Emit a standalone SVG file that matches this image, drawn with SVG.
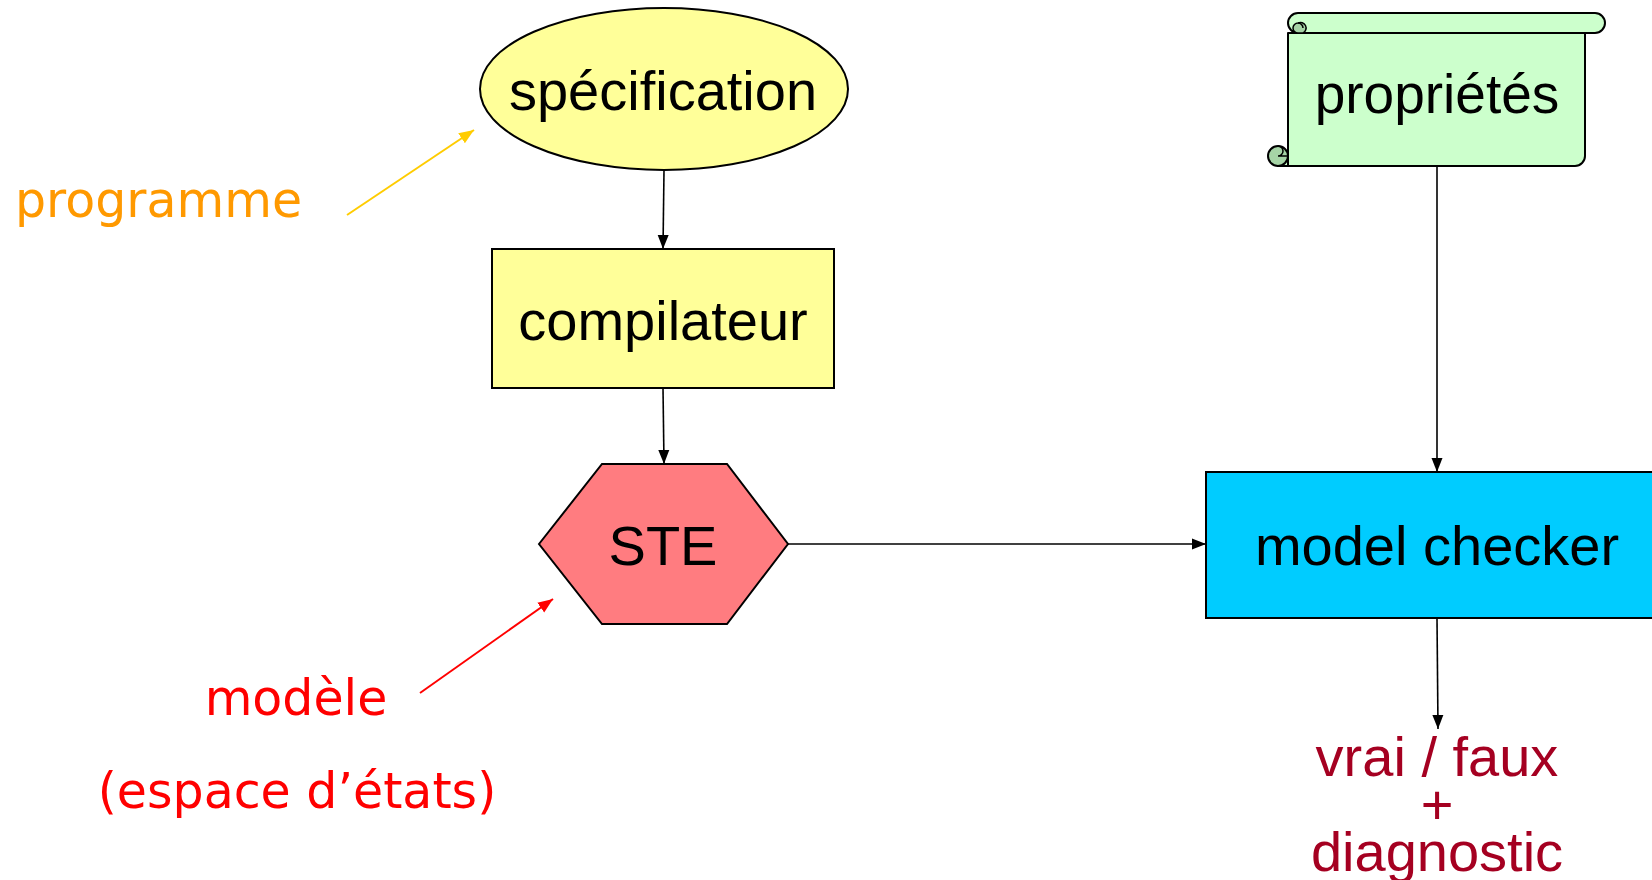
<svg xmlns="http://www.w3.org/2000/svg" width="1652" height="880" viewBox="0 0 1652 880">
  <style>
    .node { stroke: #000; stroke-width: 2; }
    .lbl { font-family: "Liberation Sans", Arial, sans-serif; font-size: 56px; fill: #000; text-anchor: middle; }
    .note { font-family: "DejaVu Sans", Verdana, sans-serif; font-size: 49px; }
    .result { font-family: "Liberation Sans", Arial, sans-serif; font-size: 56px; fill: #A50021; text-anchor: middle; }
    .edge { stroke: #000; stroke-width: 1.6; fill: none; }
  </style>
  <defs>
    <marker id="arrow" markerUnits="userSpaceOnUse" viewBox="0 0 14 14" refX="14" refY="7" markerWidth="14" markerHeight="14" orient="auto">
      <path d="M0,1.5 L14,7 L0,12.5 Z" fill="#000"/>
    </marker>
    <marker id="arrowYellow" markerUnits="userSpaceOnUse" viewBox="0 0 15 15" refX="15" refY="7.5" markerWidth="15" markerHeight="15" orient="auto">
      <path d="M0,1.5 L15,7.5 L0,13.5 Z" fill="#FFCC00"/>
    </marker>
    <marker id="arrowRed" markerUnits="userSpaceOnUse" viewBox="0 0 15 15" refX="15" refY="7.5" markerWidth="15" markerHeight="15" orient="auto">
      <path d="M0,1.5 L15,7.5 L0,13.5 Z" fill="#FF0000"/>
    </marker>
  </defs>

  <rect width="1652" height="880" fill="#fff"/>

  <!-- connectors -->
  <g id="connectors">
    <line class="edge" x1="664" y1="170" x2="663" y2="249" marker-end="url(#arrow)"/>
    <line class="edge" x1="663" y1="388" x2="664" y2="464" marker-end="url(#arrow)"/>
    <line class="edge" x1="788" y1="544" x2="1206" y2="544" marker-end="url(#arrow)"/>
    <line class="edge" x1="1437" y1="166" x2="1437" y2="472" marker-end="url(#arrow)"/>
    <line class="edge" x1="1437" y1="618" x2="1438" y2="729" marker-end="url(#arrow)"/>
    <line x1="347" y1="215" x2="474" y2="130" stroke="#FFCC00" stroke-width="2" marker-end="url(#arrowYellow)"/>
    <line x1="420" y1="693" x2="553" y2="599" stroke="#FF0000" stroke-width="2" marker-end="url(#arrowRed)"/>
  </g>

  <!-- specification -->
  <g id="specification">
    <ellipse class="node" cx="664" cy="89" rx="184" ry="81" fill="#FFFF99"/>
    <text class="lbl" x="663" y="110">spécification</text>
  </g>

  <!-- compiler -->
  <g id="compilateur">
    <rect class="node" x="492" y="249" width="342" height="139" fill="#FFFF99"/>
    <text class="lbl" x="663" y="340">compilateur</text>
  </g>

  <!-- transition system -->
  <g id="ste">
    <polygon class="node" points="539,544 602,464 727,464 788,544 727,624 602,624" fill="#FF7C80"/>
    <text class="lbl" x="663" y="565">STE</text>
  </g>

  <!-- model checker -->
  <g id="model-checker">
    <rect class="node" x="1206" y="472" width="460" height="146" fill="#00CCFF"/>
    <text class="lbl" x="1437" y="565">model checker</text>
  </g>

  <!-- properties scroll -->
  <g id="proprietes">
    <path class="node" d="M1288,33 H1585 V156 A10,10 0 0 1 1575,166 H1278 L1288,156 Z" fill="#CCFFCC" stroke-linejoin="round"/>
    <path class="node" d="M1298,13 H1595 A10,10 0 0 1 1595,33 H1298 A10,10 0 0 1 1298,13 Z" fill="#CCFFCC"/>
    <path d="M1298,23 A5,5 0 0 0 1298,33 H1303 A5,5 0 0 0 1298,23 Z" fill="#A6D4A6" stroke="#000" stroke-width="1.5"/>
    <path d="M1298,23 A5,5 0 0 1 1303,28" fill="none" stroke="#000" stroke-width="1.5"/>
    <circle cx="1278" cy="156" r="10" fill="#A6D4A6" stroke="#000" stroke-width="2"/>
    <path d="M1278,146 A5,5 0 0 1 1278,156 H1288" fill="none" stroke="#000" stroke-width="1.5"/>
    <line x1="1288" y1="33" x2="1288" y2="166" stroke="#000" stroke-width="2"/>
    <text class="lbl" x="1437" y="113" style="font-size:55px">propriétés</text>
  </g>

  <!-- annotations -->
  <g id="programme">
    <text class="note" x="15" y="217" fill="#FF9900">programme</text>
  </g>
  <g id="modele">
    <text class="note" x="296" y="715" fill="#FF0000" text-anchor="middle">modèle</text>
    <text class="note" x="297" y="808" fill="#FF0000" text-anchor="middle">(espace d’états)</text>
  </g>

  <!-- result -->
  <g id="resultat">
    <text class="result" x="1437" y="776">vrai / faux</text>
    <text class="result" x="1437" y="824">+</text>
    <text class="result" x="1437" y="871">diagnostic</text>
  </g>
</svg>
